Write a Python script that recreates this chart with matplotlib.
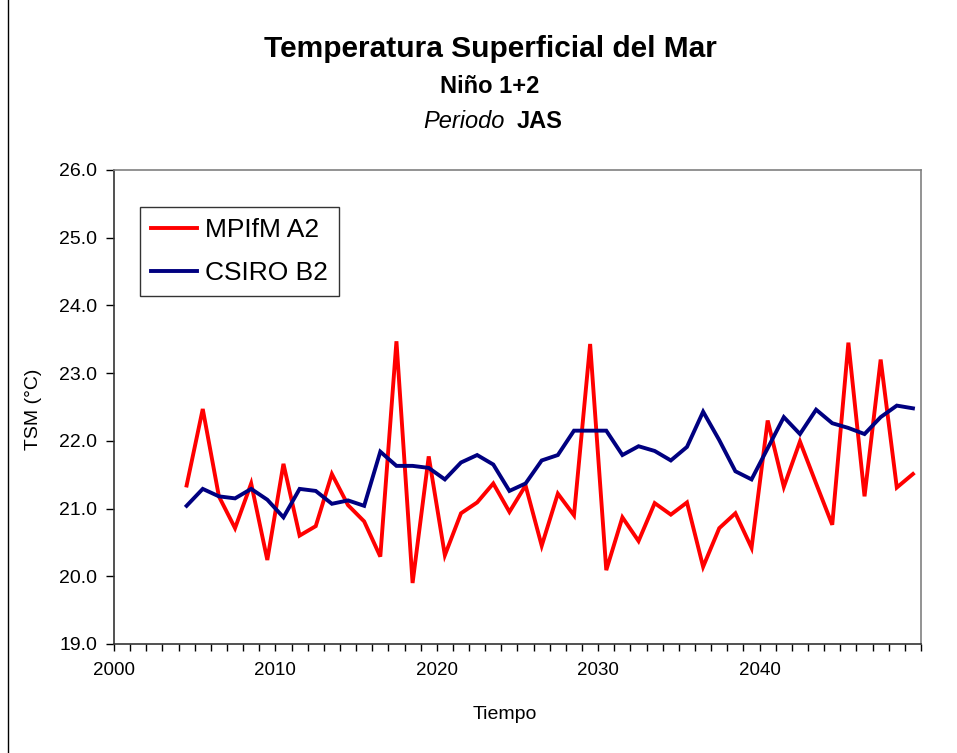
import numpy as np
import matplotlib
matplotlib.use("Agg")
import matplotlib.pyplot as plt

plt.rcParams['font.family'] = ['Liberation Sans', 'DejaVu Sans']

# años (se dibujan a mitad de año)
anios = list(range(2004, 2050))

mpifm_a2 = [21.34, 22.47, 21.18, 20.71, 21.37, 20.24, 21.66, 20.60, 20.74, 21.51,
            21.05, 20.81, 20.29, 23.47, 19.90, 21.77, 20.31, 20.93, 21.09, 21.37,
            20.95, 21.34, 20.45, 21.22, 20.90, 23.43, 20.09, 20.87, 20.52, 21.08,
            20.91, 21.09, 20.14, 20.71, 20.93, 20.42, 22.30, 21.32, 21.99, 21.37,
            20.76, 23.45, 21.18, 23.20, 21.31, 21.51]

csiro_b2 = [21.04, 21.29, 21.18, 21.15, 21.29, 21.13, 20.87, 21.29, 21.26, 21.07,
            21.12, 21.04, 21.84, 21.63, 21.63, 21.60, 21.43, 21.68, 21.79, 21.65,
            21.26, 21.37, 21.71, 21.79, 22.15, 22.15, 22.15, 21.79, 21.92, 21.85,
            21.71, 21.91, 22.43, 22.01, 21.55, 21.43, 21.89, 22.35, 22.10, 22.46,
            22.26, 22.19, 22.10, 22.35, 22.52, 22.48]

x = np.array(anios) + 0.5

fig = plt.figure(figsize=(9.57, 7.53), dpi=100)
ax = fig.add_axes([0.1191, 0.1448, 0.8433, 0.6295])

ax.plot(x, mpifm_a2, color='#FF0000', lw=2.8, label='MPIfM A2', solid_joinstyle='miter')
ax.plot(x, csiro_b2, color='#000080', lw=2.8, label='CSIRO B2', solid_joinstyle='miter')

ax.set_xlim(2000, 2050)
ax.set_ylim(19, 26)

ax.set_xticks(range(2000, 2051))
ax.set_xticklabels([str(a) if a % 10 == 0 and a < 2050 else '' for a in range(2000, 2051)])
ax.set_yticks(np.arange(19, 26.01, 1))
ax.set_yticklabels([f"{v:.1f}" for v in np.arange(19, 26.01, 1)])
ax.tick_params(axis='x', direction='out', length=5, width=1, color='#000000', pad=8)
ax.tick_params(axis='y', direction='out', length=6, width=1, color='#000000', pad=6)
for t in ax.get_xticklabels():
    t.set_family(['Liberation Sans Narrow', 'Liberation Sans'])
    t.set_fontsize(13.5)
for t in ax.get_yticklabels():
    t.set_fontsize(14)

for lado in ['top', 'right']:
    ax.spines[lado].set_color('#808080')
    ax.spines[lado].set_linewidth(1.2)
for lado in ['left', 'bottom']:
    ax.spines[lado].set_color('#333333')
    ax.spines[lado].set_linewidth(1.2)

ax.text(-0.100, 0.494, 'TSM (°C)', transform=ax.transAxes, rotation=90,
        ha='center', va='center', fontsize=14)
ax.text(0.4845, -0.148, 'Tiempo', transform=ax.transAxes,
        ha='center', va='center', fontsize=14)

leg = ax.legend(loc='upper left', bbox_to_anchor=(0.032, 0.922), fontsize=19,
                frameon=True, fancybox=False, borderaxespad=0, handlelength=1.75,
                handletextpad=0.3, labelspacing=0.72, borderpad=0.42)
leg.get_frame().set_edgecolor('black')
leg.get_frame().set_linewidth(1)

fig.text(0.512, 0.935, 'Temperatura Superficial del Mar', ha='center', va='center',
         fontsize=21.5, fontweight='bold')
fig.text(0.512, 0.885, 'Niño 1+2', ha='center', va='center', fontsize=17, fontweight='bold')
fig.text(0.527, 0.839, 'Periodo', ha='right', va='center', fontsize=17, style='italic')
fig.text(0.540, 0.839, 'JAS', ha='left', va='center', fontsize=17, fontweight='bold')

fig.add_artist(plt.Line2D([0.0084, 0.0084], [0, 1], transform=fig.transFigure,
                          color='black', lw=1))

fig.savefig('out.png', dpi=100)
